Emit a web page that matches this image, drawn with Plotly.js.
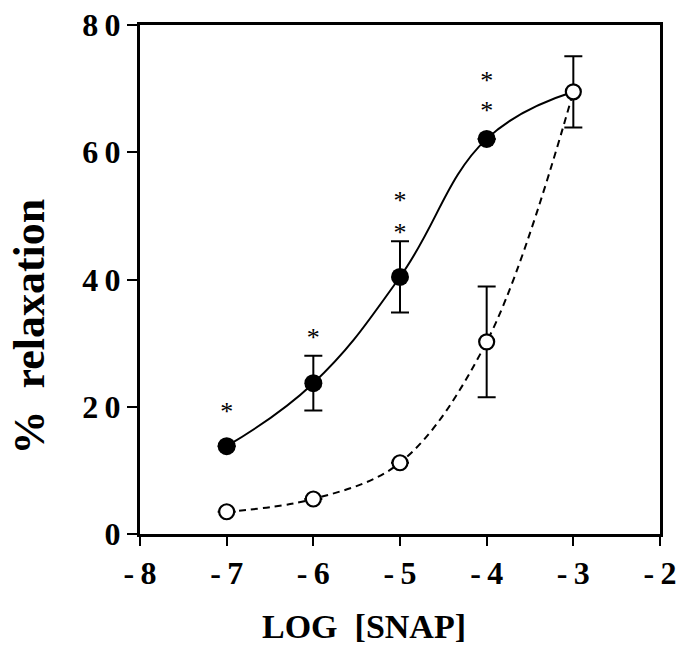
<!DOCTYPE html>
<html>
<head>
<meta charset="utf-8">
<script src="https://cdn.plot.ly/plotly-3.0.1.min.js"></script>
<style>html,body{margin:0;padding:0;background:#fff;}#chart{width:677px;height:648px;}</style>
</head>
<body>
<div id="chart"></div>
<script>
// Data
const logSnap = [-7, -6, -5, -4, -3];
const filledY = [13.8, 23.7, 40.4, 62.1, 69.5];
const filledErr = [0, 4.3, 5.6, 0, 0];
const openY = [3.5, 5.5, 11.2, 30.2, 69.5];
const openErr = [0, 0, 0, 8.7, 5.6];
const starX = [-7, -6, -5, -5, -4, -4];
const starY = [19.0, 30.6, 47.1, 52.1, 66.2, 71.0];
const xTickVals = [-8, -7, -6, -5, -4, -3, -2];
const xTickText = ['-\u20098', '-\u20097', '-\u20096', '-\u20095', '-\u20094', '-\u20093', '-\u20092'];
const yTickVals = [0, 20, 40, 60, 80];
const yTickText = ['0', '2\u20090', '4\u20090', '6\u20090', '8\u20090'];
const xTitle = 'LOG  [SNAP]';
const yTitle = '%  relaxation';

const font = 'Liberation Serif, Times New Roman, serif';

const traces = [
  { x: logSnap, y: filledY, mode: 'lines', line: {color: '#000', width: 2, shape: 'spline', smoothing: 1.2}, hoverinfo: 'skip' },
  { x: logSnap, y: openY, mode: 'lines', line: {color: '#000', width: 2, dash: '7px,5px', shape: 'spline', smoothing: 1.0}, hoverinfo: 'skip' },
  { x: logSnap.slice(0, 4), y: filledY.slice(0, 4), mode: 'markers',
    marker: {color: '#000', size: 18, line: {width: 0}},
    error_y: {type: 'data', array: filledErr.slice(0, 4), visible: true, color: '#000', thickness: 2, width: 9} },
  { x: logSnap, y: openY, mode: 'markers',
    marker: {color: '#fff', size: 15, symbol: 'circle', line: {color: '#000', width: 2.2}},
    error_y: {type: 'data', array: openErr, visible: true, color: '#000', thickness: 2, width: 9} },
  { x: starX, y: starY, mode: 'text', text: starX.map(() => '*'),
    textfont: {family: font, size: 26, color: '#000'}, textposition: 'middle center', hoverinfo: 'skip' }
];

const layout = {
  width: 677, height: 648,
  margin: {l: 140, r: 17, t: 25, b: 114},
  paper_bgcolor: '#fff', plot_bgcolor: '#fff',
  showlegend: false,
  xaxis: {
    range: [-8, -2], tickvals: xTickVals, ticktext: xTickText,
    ticks: 'outside', ticklen: 9, tickwidth: 2, tickcolor: '#000',
    showline: true, linecolor: '#000', linewidth: 3, mirror: true,
    showgrid: false, zeroline: false,
    tickfont: {family: font, size: 32, color: '#000', weight: 'bold'}
  },
  yaxis: {
    range: [0, 80], tickvals: yTickVals, ticktext: yTickText,
    ticks: 'outside', ticklen: 10, tickwidth: 2, tickcolor: '#000',
    showline: true, linecolor: '#000', linewidth: 3, mirror: true,
    showgrid: false, zeroline: false,
    tickfont: {family: font, size: 32, color: '#000', weight: 'bold'}
  },
  annotations: [
    { text: '<b>' + xTitle + '</b>', xref: 'paper', yref: 'paper', x: 0.431, y: -0.181,
      xanchor: 'center', yanchor: 'middle', showarrow: false, borderpad: 0,
      font: {family: font, size: 34, color: '#000'} },
    { text: '<b>' + yTitle + '</b>', xref: 'paper', yref: 'paper', x: -0.212, y: 0.407,
      xanchor: 'center', yanchor: 'middle', showarrow: false, textangle: -90, borderpad: 0,
      font: {family: font, size: 44, color: '#000'} }
  ]
};

Plotly.newPlot('chart', traces, layout, {displayModeBar: false, staticPlot: true});
</script>
</body>
</html>
